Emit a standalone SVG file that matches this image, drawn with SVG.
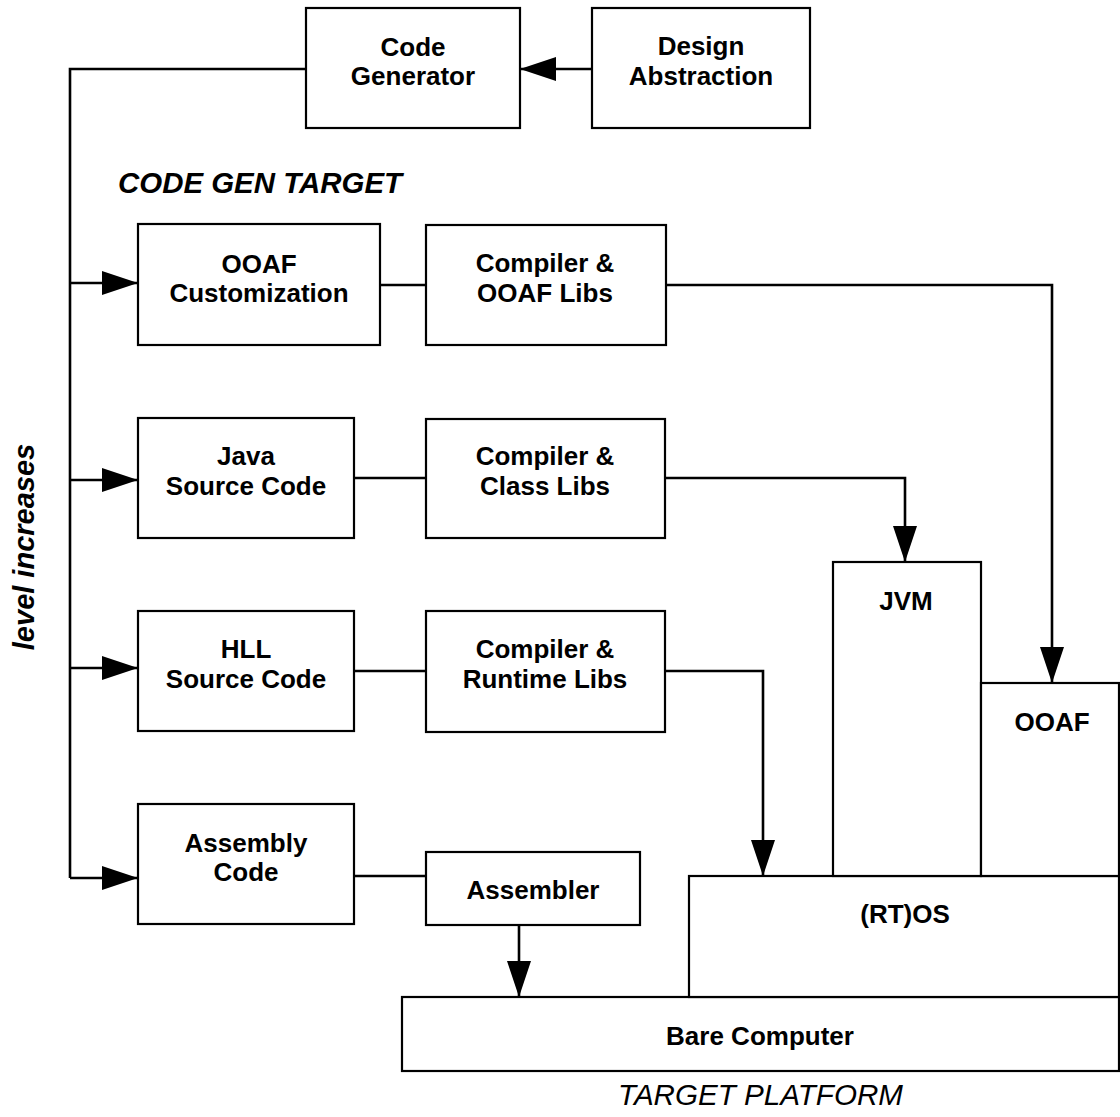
<svg xmlns="http://www.w3.org/2000/svg" width="1120" height="1117" viewBox="0 0 1120 1117">
  <style>
    .box { fill: #fff; stroke: #000; stroke-width: 2.2; }
    .lbl { font-family: "Liberation Sans", Arial, sans-serif; font-weight: bold; font-size: 26px; text-anchor: middle; fill: #000; }
    .cap { font-family: "Liberation Sans", Arial, sans-serif; font-style: italic; font-size: 29px; fill: #000; }
    .wire { fill: none; stroke: #000; stroke-width: 2.6; }
  </style>
  <defs>
    <marker id="arrow" markerUnits="userSpaceOnUse" markerWidth="36" markerHeight="24" refX="36" refY="12" orient="auto">
      <path d="M0,0 L36,12 L0,24 z" fill="#000"/>
    </marker>
  </defs>
  <rect width="1120" height="1117" fill="#fff"/>

  <!-- platform stack -->
  <g id="bare-computer">
    <rect class="box" x="402" y="997" width="717" height="74"/>
    <text class="lbl" x="760" y="1045">Bare Computer</text>
  </g>
  <g id="rtos">
    <rect class="box" x="689" y="876" width="430" height="121"/>
    <text class="lbl" x="905" y="923">(RT)OS</text>
  </g>
  <g id="jvm">
    <rect class="box" x="833" y="562" width="148" height="314"/>
    <text class="lbl" x="906" y="610">JVM</text>
  </g>
  <g id="ooaf">
    <rect class="box" x="981" y="683" width="138" height="193"/>
    <text class="lbl" x="1052" y="731">OOAF</text>
  </g>

  <!-- generator chain -->
  <g id="code-generator">
    <rect class="box" x="306" y="8" width="214" height="120"/>
    <text class="lbl" x="413" y="56">Code</text>
    <text class="lbl" x="413" y="85">Generator</text>
  </g>
  <g id="design-abstraction">
    <rect class="box" x="592" y="8" width="218" height="120"/>
    <text class="lbl" x="701" y="55">Design</text>
    <text class="lbl" x="701" y="85">Abstraction</text>
  </g>

  <!-- code generation targets -->
  <g id="ooaf-customization">
    <rect class="box" x="138" y="224" width="242" height="121"/>
    <text class="lbl" x="259" y="273">OOAF</text>
    <text class="lbl" x="259" y="302">Customization</text>
  </g>
  <g id="compiler-ooaf-libs">
    <rect class="box" x="426" y="225" width="240" height="120"/>
    <text class="lbl" x="545" y="272">Compiler &amp;</text>
    <text class="lbl" x="545" y="302">OOAF Libs</text>
  </g>
  <g id="java-source">
    <rect class="box" x="138" y="418" width="216" height="120"/>
    <text class="lbl" x="246" y="465">Java</text>
    <text class="lbl" x="246" y="495">Source Code</text>
  </g>
  <g id="compiler-class-libs">
    <rect class="box" x="426" y="419" width="239" height="119"/>
    <text class="lbl" x="545" y="465">Compiler &amp;</text>
    <text class="lbl" x="545" y="495">Class Libs</text>
  </g>
  <g id="hll-source">
    <rect class="box" x="138" y="611" width="216" height="120"/>
    <text class="lbl" x="246" y="658">HLL</text>
    <text class="lbl" x="246" y="688">Source Code</text>
  </g>
  <g id="compiler-runtime-libs">
    <rect class="box" x="426" y="611" width="239" height="121"/>
    <text class="lbl" x="545" y="658">Compiler &amp;</text>
    <text class="lbl" x="545" y="688">Runtime Libs</text>
  </g>
  <g id="assembly-code">
    <rect class="box" x="138" y="804" width="216" height="120"/>
    <text class="lbl" x="246" y="852">Assembly</text>
    <text class="lbl" x="246" y="881">Code</text>
  </g>
  <g id="assembler">
    <rect class="box" x="426" y="852" width="214" height="73"/>
    <text class="lbl" x="533" y="899">Assembler</text>
  </g>

  <!-- captions -->
  <text class="cap" x="118" y="193" font-weight="bold" textLength="284" lengthAdjust="spacingAndGlyphs">CODE GEN TARGET</text>
  <text class="cap" x="618" y="1105" textLength="285" lengthAdjust="spacingAndGlyphs">TARGET PLATFORM</text>
  <text class="cap" font-weight="bold" text-anchor="middle" transform="translate(34,547) rotate(-90)">level increases</text>

  <!-- connectors -->
  <g id="connectors">
    <line class="wire" x1="592" y1="69" x2="520" y2="69" marker-end="url(#arrow)"/>
    <polyline class="wire" points="306,69 70,69 70,878"/>
    <line class="wire" x1="70" y1="283" x2="138" y2="283" marker-end="url(#arrow)"/>
    <line class="wire" x1="70" y1="480" x2="138" y2="480" marker-end="url(#arrow)"/>
    <line class="wire" x1="70" y1="668" x2="138" y2="668" marker-end="url(#arrow)"/>
    <line class="wire" x1="70" y1="878" x2="138" y2="878" marker-end="url(#arrow)"/>
    <line class="wire" x1="380" y1="285" x2="426" y2="285"/>
    <line class="wire" x1="354" y1="478" x2="426" y2="478"/>
    <line class="wire" x1="354" y1="671" x2="426" y2="671"/>
    <line class="wire" x1="354" y1="876" x2="426" y2="876"/>
    <polyline class="wire" points="666,285 1052,285 1052,683" marker-end="url(#arrow)"/>
    <polyline class="wire" points="665,478 905,478 905,562" marker-end="url(#arrow)"/>
    <polyline class="wire" points="665,671 763,671 763,876" marker-end="url(#arrow)"/>
    <line class="wire" x1="519" y1="925" x2="519" y2="997" marker-end="url(#arrow)"/>
  </g>
</svg>
